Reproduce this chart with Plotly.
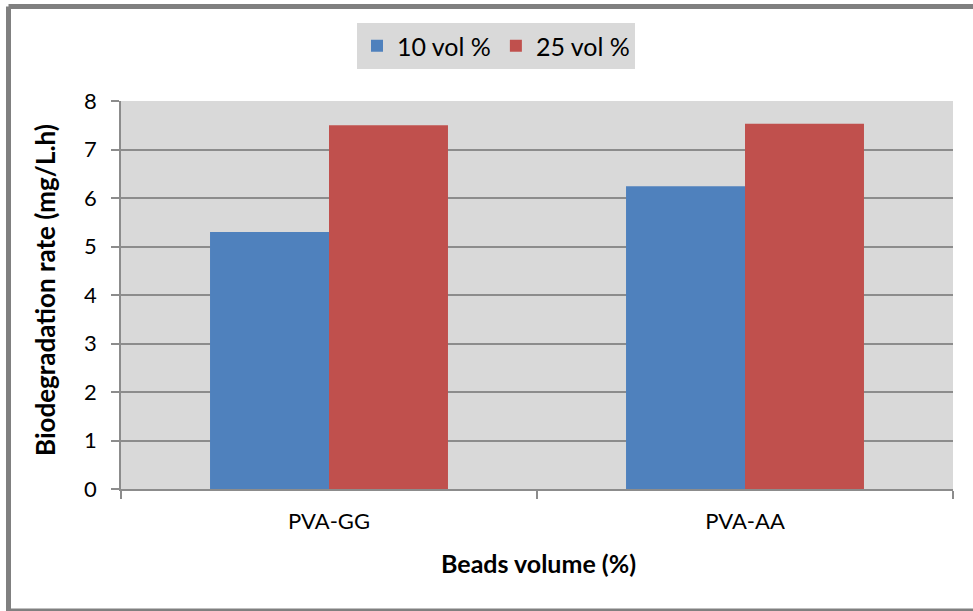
import plotly.graph_objects as go

categories = ["PVA-GG", "PVA-AA"]
series_names = ["10 vol %", "25 vol %"]
vals_10 = [5.30, 6.24]
vals_25 = [7.50, 7.53]
colors = ["#4F81BD", "#C0504D"]
y_ticks = [0, 1, 2, 3, 4, 5, 6, 7, 8]

FONT = "Lato"

fig = go.Figure()
for name, vals, col in zip(series_names, [vals_10, vals_25], colors):
    fig.add_trace(go.Bar(x=categories, y=vals, name=name, marker=dict(color=col, line=dict(width=0))))

L, R, T, B = 121, 20, 101, 122
W, H = 973, 611
pw, ph = W - L - R, H - T - B

def px2paper(px, py):
    return (px - L) / pw, (H - B - py) / ph

bx0, by0 = px2paper(8.5, 6.5)
bx1, by1 = px2paper(973, 611)
border = dict(color="#808080", width=5)

fig.update_layout(
    width=W, height=H,
    margin=dict(l=L, r=R, t=T, b=B, pad=0),
    paper_bgcolor="white",
    plot_bgcolor="#D9D9D9",
    barmode="group",
    bargap=0.428,
    bargroupgap=0,
    font=dict(family=FONT, color="black", size=22),
    showlegend=True,
    legend=dict(
        orientation="h", x=px2paper(496, 0)[0], xanchor="center",
        y=px2paper(0, 23)[1], yanchor="top",
        bgcolor="#D9D9D9", font=dict(size=25, family=FONT),
        itemsizing="constant",
    ),
    xaxis=dict(
        type="category", tickson="boundaries", ticks="outside", ticklen=8,
        tickcolor="#8C8C8C", tickwidth=1.5,
        showline=True, linecolor="#8C8C8C", linewidth=1.5,
        showgrid=False, tickfont=dict(size=22, family=FONT),
        range=[-0.5, 1.5], ticklabelstandoff=12,
    ),
    yaxis=dict(
        range=[0, 8], tickvals=y_ticks, ticks="outside", ticklen=8,
        tickcolor="#8C8C8C", tickwidth=1.5,
        showline=True, linecolor="#8C8C8C", linewidth=1.5,
        showgrid=True, gridcolor="#8C8C8C", gridwidth=1.8,
        zeroline=False, tickfont=dict(size=22, family=FONT),
        ticklabelstandoff=10,
    ),
    shapes=[
        dict(type="line", xref="paper", yref="paper", x0=bx0, y0=by0, x1=bx1, y1=by0, line=border),
        dict(type="line", xref="paper", yref="paper", x0=bx0, y0=by0, x1=bx0, y1=by1, line=border),
        dict(type="line", xref="paper", yref="paper", x0=bx0, y0=by1, x1=bx1, y1=by1, line=border),
    ],
    annotations=[
        dict(text="<b>Biodegradation rate (mg/L.h)</b>", textangle=-90, xref="paper", yref="paper",
             x=px2paper(45, 0)[0], y=px2paper(0, 290)[1], showarrow=False,
             xanchor="center", yanchor="middle", font=dict(size=26, family=FONT)),
        dict(text="<b>Beads volume (%)</b>", xref="paper", yref="paper",
             x=px2paper(538, 0)[0], y=px2paper(0, 563)[1], showarrow=False,
             xanchor="center", yanchor="middle", font=dict(size=25, family=FONT)),
    ],
)

fig.write_html("out.html")
